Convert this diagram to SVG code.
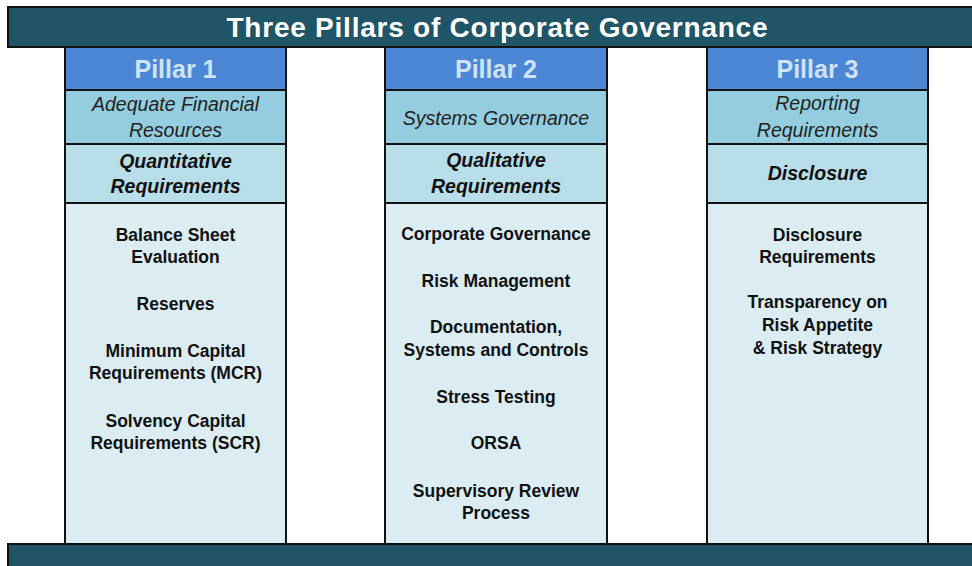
<svg xmlns="http://www.w3.org/2000/svg" width="972" height="566" viewBox="0 0 972 566">
  <style>
    .bar { fill: #1f5566; stroke: #111; stroke-width: 2; }
    .head { fill: #4b87d5; stroke: #111; stroke-width: 2; }
    .sub { fill: #93cddf; stroke: #111; stroke-width: 2; }
    .req { fill: #b8dee9; stroke: #111; stroke-width: 2; }
    .body { fill: #dbedf3; stroke: #111; stroke-width: 2; }
    text { font-family: "Liberation Sans", Arial, sans-serif; text-anchor: middle; fill: #111; }
    .title { font-size: 28px; font-weight: bold; fill: #ffffff; }
    .pill { font-size: 25px; font-weight: bold; fill: #cfe3f7; }
    .it { font-size: 19.5px; font-style: italic; fill: #222; }
    .bi { font-size: 19.5px; font-style: italic; font-weight: bold; }
    .item { font-size: 17.5px; font-weight: bold; }
  </style>

  <!-- title banner -->
  <g id="title">
    <rect class="bar" x="8" y="7" width="970" height="40"/>
    <text class="title" x="497" y="37" textLength="541" lengthAdjust="spacing">Three Pillars of Corporate Governance</text>
  </g>

  <!-- pillar 1 -->
  <g id="pillar1">
    <rect class="body" x="65" y="203" width="221" height="341"/>
    <rect class="req" x="65" y="144" width="221" height="59"/>
    <rect class="sub" x="65" y="90" width="221" height="54"/>
    <rect class="head" x="65" y="47" width="221" height="43"/>
    <text class="pill" x="175.5" y="78">Pillar 1</text>
    <text class="it" x="175.5" y="111">Adequate Financial</text>
    <text class="it" x="175.5" y="137">Resources</text>
    <text class="bi" x="175.5" y="168">Quantitative</text>
    <text class="bi" x="175.5" y="193">Requirements</text>
    <text class="item" x="175.5" y="241">Balance Sheet</text>
    <text class="item" x="175.5" y="263">Evaluation</text>
    <text class="item" x="175.5" y="310">Reserves</text>
    <text class="item" x="175.5" y="357">Minimum Capital</text>
    <text class="item" x="175.5" y="379">Requirements (MCR)</text>
    <text class="item" x="175.5" y="427">Solvency Capital</text>
    <text class="item" x="175.5" y="449">Requirements (SCR)</text>
  </g>

  <!-- pillar 2 -->
  <g id="pillar2">
    <rect class="body" x="385" y="203" width="222" height="341"/>
    <rect class="req" x="385" y="144" width="222" height="59"/>
    <rect class="sub" x="385" y="90" width="222" height="54"/>
    <rect class="head" x="385" y="47" width="222" height="43"/>
    <text class="pill" x="496" y="78">Pillar 2</text>
    <text class="it" x="496" y="125">Systems Governance</text>
    <text class="bi" x="496" y="167">Qualitative</text>
    <text class="bi" x="496" y="193">Requirements</text>
    <text class="item" x="496" y="240">Corporate Governance</text>
    <text class="item" x="496" y="287">Risk Management</text>
    <text class="item" x="496" y="333">Documentation,</text>
    <text class="item" x="496" y="356">Systems and Controls</text>
    <text class="item" x="496" y="403">Stress Testing</text>
    <text class="item" x="496" y="449">ORSA</text>
    <text class="item" x="496" y="497">Supervisory Review</text>
    <text class="item" x="496" y="519">Process</text>
  </g>

  <!-- pillar 3 -->
  <g id="pillar3">
    <rect class="body" x="707" y="203" width="221" height="341"/>
    <rect class="req" x="707" y="144" width="221" height="59"/>
    <rect class="sub" x="707" y="90" width="221" height="54"/>
    <rect class="head" x="707" y="47" width="221" height="43"/>
    <text class="pill" x="817.5" y="78">Pillar 3</text>
    <text class="it" x="817.5" y="110">Reporting</text>
    <text class="it" x="817.5" y="137">Requirements</text>
    <text class="bi" x="817.5" y="180">Disclosure</text>
    <text class="item" x="817.5" y="241">Disclosure</text>
    <text class="item" x="817.5" y="263">Requirements</text>
    <text class="item" x="817.5" y="308">Transparency on</text>
    <text class="item" x="817.5" y="331">Risk Appetite</text>
    <text class="item" x="817.5" y="354">&amp; Risk Strategy</text>
  </g>

  <!-- base slab -->
  <g id="base">
    <rect class="bar" x="8" y="544" width="970" height="30"/>
  </g>

  <!-- no connectors in this figure -->
  <g id="connectors"/>
</svg>
